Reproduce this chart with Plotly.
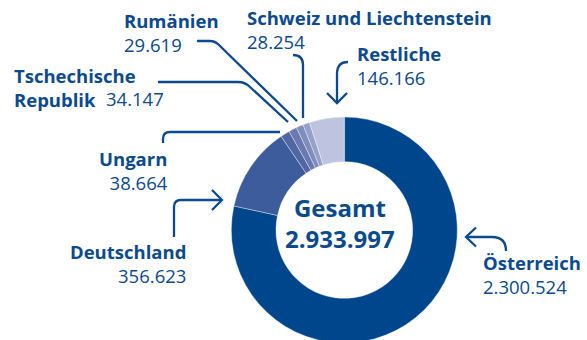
import plotly.graph_objects as go

# Slices, clockwise from 12 o'clock
countries = ["Österreich", "Deutschland", "Ungarn", "Tschechische Republik",
             "Rumänien", "Schweiz und Liechtenstein", "Restliche"]
values = [2300524, 356623, 38664, 34147, 29619, 28254, 146166]
colors = ["#00468C", "#3D5C9C", "#5067A4", "#6A7AB0", "#7E8DBC", "#96A1CA", "#BEC3DF"]
total_label = "2.933.997"

W, H = 587, 344
BLUE = "#0B4A8E"
FONT = "Open Sans"
SIZE = 18.5


def px(x):
    return x / W


def py(y):
    return 1 - y / H


def fmt(v):
    return f"{v:,}".replace(",", ".")


fig = go.Figure(go.Pie(
    labels=countries,
    values=values,
    sort=False,
    direction="clockwise",
    rotation=0,
    hole=0.605,
    marker=dict(colors=colors, line=dict(color="rgba(255,255,255,0.6)", width=0.6)),
    textinfo="none",
    hoverinfo="label+value",
    showlegend=False,
    domain=dict(x=[px(231.3), px(457.3)], y=[py(343), py(117)]),
))

annotations = []


def label(x, y, text, anchor, size=SIZE):
    annotations.append(dict(
        x=px(x), y=py(y), xref="paper", yref="paper",
        text=text, showarrow=False,
        xanchor=anchor, yanchor="middle", align=anchor,
        font=dict(family=FONT, size=size, color=BLUE),
    ))


def pair(x, y, name, anchor):
    label(x, y, f"<b>{name}</b><br>{fmt(v[name])}", anchor)


# name / value pairs around the ring
v = dict(zip(countries, values))
pair(122, 33, "Rumänien", "left")
pair(245, 29, "Schweiz und Liechtenstein", "left")
pair(355, 65, "Restliche", "left")
label(12, 87, "<b>Tschechische</b><br><b>Republik</b>", "left")
label(104, 98.5, fmt(v["Tschechische Republik"]), "left")
pair(170, 170, "Ungarn", "right")
pair(188, 263, "Deutschland", "right")
pair(481, 274, "Österreich", "left")

# total in the hole
label(340.5, 222.5, f"<b>Gesamt</b><br><b>{total_label}</b>", "center", size=24)


def path(cmds):
    out = []
    for c in cmds:
        if isinstance(c, str):
            out.append(c)
        else:
            out.append(f"{px(c[0]):.5f},{py(c[1]):.5f}")
    return " ".join(out)


connectors = [
    # Rumänien
    ["M", (197, 41), "L", (210, 41), "Q", (215, 41), (219, 45), "L", (297, 121)],
    # Tschechische Republik
    ["M", (158, 82), "L", (238, 82), "Q", (245, 82), (250, 87), "L", (288, 122)],
    # Schweiz und Liechtenstein
    ["M", (293, 55), "Q", (303, 55), (303, 65), "L", (303, 118)],
    # Ungarn
    ["M", (163, 143), "L", (163, 139), "Q", (163, 132), (170, 132), "L", (280, 132)],
    # Deutschland arrow
    ["M", (174, 237), "L", (174, 207), "Q", (174, 200), (181, 200), "L", (222, 200)],
    ["M", (212, 190), "L", (222, 200), "L", (212, 210)],
    # Österreich arrow
    ["M", (506, 251), "Q", (506, 237), (492, 237), "L", (466, 237)],
    ["M", (476, 227.5), "L", (466, 237), "L", (476, 246.5)],
    # Restliche arrow
    ["M", (348, 62), "Q", (337, 62), (337, 74), "L", (337, 103)],
    ["M", (327, 93), "L", (337, 103), "L", (347, 93)],
]

shapes = [dict(type="path", xref="paper", yref="paper", path=path(c),
               line=dict(color=BLUE, width=2.3)) for c in connectors]

fig.update_layout(
    width=W, height=H,
    margin=dict(l=0, r=0, t=0, b=0),
    paper_bgcolor="white", plot_bgcolor="white",
    annotations=annotations,
    shapes=shapes,
)

fig.write_html(
    "out.html",
    config={"displayModeBar": False},
    post_script="document.documentElement.style.overflow='hidden';document.body.style.overflow='hidden';",
)
